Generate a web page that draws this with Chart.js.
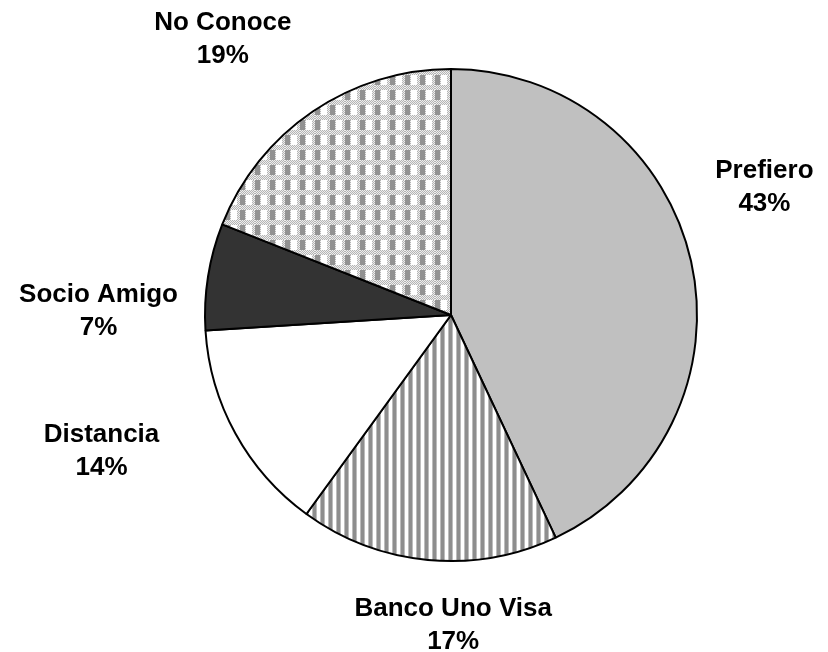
<!DOCTYPE html>
<html>
<head>
<meta charset="utf-8">
<script src="https://cdn.jsdelivr.net/npm/chart.js@4/dist/chart.umd.min.js"></script>
<style>
  html, body { margin: 0; padding: 0; background: #fff; }
  canvas { display: block; }
</style>
</head>
<body>
<canvas id="myChart" width="828" height="652"></canvas>
<script>
// slices, clockwise from 12 o'clock
var categories = ['Prefiero', 'Banco Uno Visa', 'Distancia', 'Socio Amigo', 'No Conoce'];
var percents = [43, 17, 14, 7, 19];

// where each label block sits: angle (deg, clockwise from top) and distance in radii
var labelAngles = [67.9, 179.6, 248.7, 270.6, 320.4];
var labelDistances = [1.375, 1.262, 1.525, 1.433, 1.455];

function makeTile(w, h, draw) {
  var c = document.createElement('canvas');
  c.width = w; c.height = h;
  var g = c.getContext('2d');
  draw(g);
  return g.createPattern(c, 'repeat');
}

// narrow vertical stripes
var stripes = makeTile(8, 8, function (g) {
  g.fillStyle = '#ffffff'; g.fillRect(0, 0, 8, 8);
  g.fillStyle = '#bdbdbd'; g.fillRect(0, 0, 1, 8); g.fillRect(4, 0, 1, 8);
  g.fillStyle = '#8e8e8e'; g.fillRect(1, 0, 3, 8);
});

// plaid
var plaid = makeTile(15, 15, function (g) {
  for (var y = 0; y < 15; y++) {
    for (var x = 0; x < 15; x++) {
      g.fillStyle = (x + y) % 2 ? '#b4b4b4' : '#eeeeee';
      g.fillRect(x, y, 1, 1);
    }
  }
  g.fillStyle = '#929292'; g.fillRect(0, 0, 5, 10);
  g.fillStyle = '#ffffff'; g.fillRect(6, 0, 6, 10);
});

var fills = ['#c0c0c0', stripes, '#ffffff', '#333333', plaid];

var labelPlugin = {
  id: 'sliceLabels',
  afterDraw: function (chart) {
    var ctx = chart.ctx;
    var arcs = chart.getDatasetMeta(0).data;
    ctx.save();
    ctx.fillStyle = '#000';
    ctx.font = 'bold 26px "Liberation Sans", Arial, sans-serif';
    ctx.textAlign = 'center';
    ctx.textBaseline = 'middle';
    arcs.forEach(function (arc, i) {
      var a = labelAngles[i] * Math.PI / 180;
      var d = arc.outerRadius * labelDistances[i];
      var x = arc.x + Math.sin(a) * d;
      var y = arc.y - Math.cos(a) * d;
      ctx.fillText(categories[i], x, y - 16.5);
      ctx.fillText(percents[i] + '%', x, y + 16.5);
    });
    ctx.restore();
  }
};

var ctx = document.getElementById('myChart').getContext('2d');
var chart = new Chart(ctx, {
  type: 'pie',
  data: {
    labels: categories,
    datasets: [{
      data: percents,
      backgroundColor: fills,
      borderColor: '#000',
      borderWidth: 2
    }]
  },
  options: {
    responsive: false,
    animation: false,
    layout: { padding: { left: 204, right: 130, top: 68, bottom: 90 } },
    plugins: {
      legend: { display: false },
      tooltip: { enabled: false }
    }
  },
  plugins: [labelPlugin]
});
</script>
</body>
</html>
